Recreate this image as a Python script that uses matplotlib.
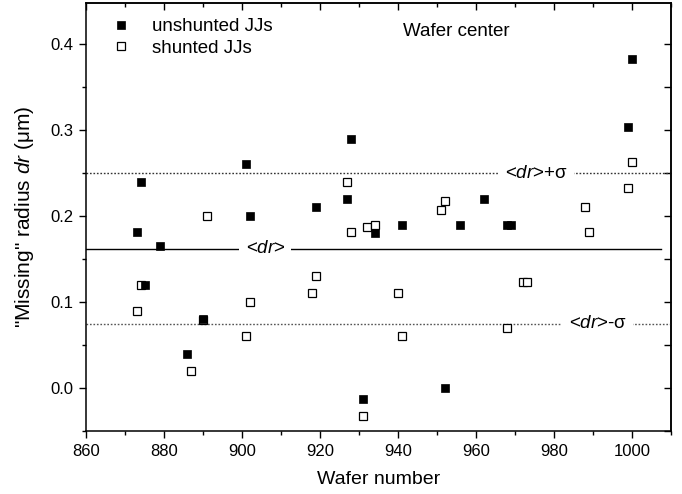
import matplotlib
matplotlib.use("Agg")
import matplotlib.pyplot as plt
from matplotlib.ticker import MultipleLocator, FormatStrFormatter

plt.rcParams['font.family'] = ['Liberation Sans', 'DejaVu Sans']
plt.rcParams['mathtext.fontset'] = 'custom'
plt.rcParams['mathtext.it'] = 'Liberation Sans:italic'
plt.rcParams['mathtext.rm'] = 'Liberation Sans'

# Unshunted JJs (filled squares)
unshunted_x = [873, 874, 875, 879, 886, 890, 901, 902, 919, 927, 928, 931,
               934, 941, 952, 956, 962, 968, 969, 999, 1000]
unshunted_y = [0.181, 0.240, 0.120, 0.165, 0.040, 0.080, 0.260, 0.200, 0.210,
               0.220, 0.290, -0.013, 0.180, 0.190, 0.000, 0.190, 0.220, 0.190,
               0.190, 0.303, 0.383]

# Shunted JJs (open squares)
shunted_x = [873, 874, 887, 890, 891, 901, 902, 918, 919, 927, 928, 931, 932,
             934, 940, 941, 951, 952, 968, 972, 973, 988, 989, 999, 1000]
shunted_y = [0.090, 0.120, 0.020, 0.079, 0.200, 0.060, 0.100, 0.110, 0.130,
             0.240, 0.181, -0.032, 0.187, 0.190, 0.110, 0.060, 0.207, 0.217,
             0.070, 0.123, 0.123, 0.210, 0.181, 0.233, 0.263]

mean_dr = 0.162
sigma_dr = 0.0875

fig = plt.figure(figsize=(6.82, 4.94), dpi=100)
ax = fig.add_axes([0.1261, 0.1275, 0.8578, 0.8664])

ax.plot(shunted_x, shunted_y, ls='none', marker='s', ms=5.4, mfc='white',
        mec='black', mew=0.9, label='shunted JJs', zorder=3)
ax.plot(unshunted_x, unshunted_y, ls='none', marker='s', ms=5.4, mfc='black',
        mec='black', mew=0.5, label='unshunted JJs', zorder=4)

ax.axhline(mean_dr, xmin=0, xmax=(1007.5 - 860) / 150, color='black', lw=1.0, zorder=1)
ax.axhline(mean_dr + sigma_dr, color='#333333', lw=1.0, ls=(0, (1.2, 1.3)), zorder=1)
ax.axhline(mean_dr - sigma_dr, color='#555555', lw=1.0, ls=(0, (1.2, 1.3)), zorder=1)

bb = dict(facecolor='white', edgecolor='none', pad=4.5)
ax.text(906, mean_dr, r'<$\mathit{dr}$>', ha='center', va='center', fontsize=13.5, bbox=bb, zorder=2)
ax.text(975.6, mean_dr + sigma_dr, r'<$\mathit{dr}$>+σ', ha='center', va='center', fontsize=13.5, bbox=bb, zorder=2)
ax.text(991.2, mean_dr - sigma_dr, r'<$\mathit{dr}$>-σ', ha='center', va='center', fontsize=13.5, bbox=bb, zorder=2)

ax.text(955, 0.4095, 'Wafer center', ha='center', va='baseline', fontsize=13.5)

handles, labels = ax.get_legend_handles_labels()
ax.legend(handles[::-1], labels[::-1], loc='upper left', frameon=False,
          fontsize=13.5, handletextpad=1.05, borderaxespad=0.3, labelspacing=0.23,
          handlelength=1.2, bbox_to_anchor=(0.019, 0.995))

ax.set_xlim(860, 1010)
ax.set_ylim(-0.05, 0.4477)
ax.xaxis.set_major_locator(MultipleLocator(20))
ax.xaxis.set_minor_locator(MultipleLocator(10))
ax.yaxis.set_major_locator(MultipleLocator(0.1))
ax.yaxis.set_minor_locator(MultipleLocator(0.05))
ax.yaxis.set_major_formatter(FormatStrFormatter('%.1f'))
ax.tick_params(which='both', direction='out', top=False, right=False, labelsize=12)
ax.tick_params(which='major', length=5, width=1, pad=4)
ax.tick_params(which='minor', length=3, width=1)

# inward ticks on top and right
secx = ax.secondary_xaxis('top')
secx.xaxis.set_major_locator(MultipleLocator(20))
secx.xaxis.set_minor_locator(MultipleLocator(10))
secx.tick_params(which='both', direction='in', labeltop=False)
secx.tick_params(which='major', length=5, width=1)
secx.tick_params(which='minor', length=3, width=1)
secy = ax.secondary_yaxis('right')
secy.yaxis.set_major_locator(MultipleLocator(0.1))
secy.yaxis.set_minor_locator(MultipleLocator(0.05))
secy.tick_params(which='both', direction='in', labelright=False)
secy.tick_params(which='major', length=5, width=1)
secy.tick_params(which='minor', length=5, width=1)

for s in list(ax.spines.values()) + list(secx.spines.values()) + list(secy.spines.values()):
    s.set_linewidth(1.1)

ax.set_xlabel('Wafer number', fontsize=14, labelpad=9)
ax.set_ylabel(r'"Missing" radius $\mathit{dr}$ (μm)', fontsize=15, labelpad=10)

fig.savefig('out.png', dpi=100)
